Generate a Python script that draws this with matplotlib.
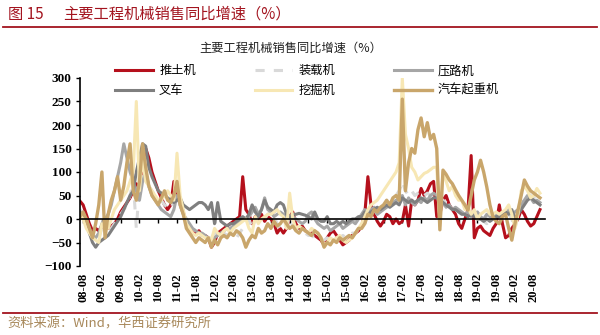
import matplotlib
matplotlib.use("Agg")
import matplotlib.pyplot as plt
from matplotlib.lines import Line2D

plt.rcParams['font.family'] = ['Noto Sans CJK SC', 'DejaVu Sans']

# monthly YoY growth (%), 2008-07 .. 2020-10
dozer = [38, 30, 10, -10, -25, -20,
         -25, -15, -20, -20, -15, -10, 0, 15, 25, 35, 45, 60,
         75, 70, 110, 150, 130, 100, 80, 60, 45, 30, 20, 30,
         80, 45, 40, 15, -10, -20, -30, -30, -25, -35, -35, -40,
         -60, -50, -30, -25, -20, -15, -10, -5, 0, 5, 90, 20,
         10, -10, 5, 0, 10, -5, 5, 0, -10, -30, -20, -30,
         -20, 5, 15, -10, -20, -15, -25, -30, -30, -35, -40, -45,
         -55, -40, -30, -25, -35, -45, -55, -50, -45, -35, -30, -25,
         -15, 10, 90, 30, 10, -5, -15, -5, 10, 5, -10, 0,
         -10, -5, 30, -15, 40, 30, 40, 65, 50, 60, 75, 80,
         5, 10, 40, 50, 30, 20, 10, -10, -20, 0, 20, 135,
         -40, -20, -15, -25, -30, -35, -20, -10, 30, -10, -40, -35,
         -20, -10, 0, 20, 10, -5, -15, -10, 5, 20]

loader = [20, 10, -10, -25, -35, -40,
          -40, -20, -20, -25, -20, -10, 0, 10, 20, 30, 50, 80,
          -20, 70, 90, 80, 70, 60, 50, 45, 40, 30, 25, 20,
          40, 70, 30, 10, -10, -20, -25, -30, -30, -35, -35, -30,
          -40, -30, -40, -35, -30, -35, -30, -35, -40, -30, -20, -10,
          0, -20, 0, 5, -5, 0, 10, 15, 5, -10, -20, -10,
          -15, 5, -15, -20, -25, -30, -30, -35, -35, -40, -40, -45,
          -45, -40, -45, -40, -45, -40, -35, -40, -35, -30, -30, -20,
          -20, 0, 10, 15, 20, 10, 15, 20, 30, 25, 40, 50,
          60, 80, 60, 50, 60, 50, 55, 60, 50, 55, 50, 45,
          50, 45, 40, 35, 30, 25, 20, 15, 20, 10, 15, 10,
          5, 10, 0, -5, -10, -5, 0, 5, 10, 0, 5, 10,
          0, -20, 10, 30, 50, 55, 50, 45, 40, 50]

roller = [15, 10, 0, -20, -35, -40,
          -30, -10, 0, 10, 30, 60, 90, 120, 160, 130, 100, 80,
          60, 40, 80, 100, 70, 50, 40, 30, 20, 15, 10, 5,
          20, 50, 30, 10, 0, -10, -20, -25, -30, -30, -35, -40,
          -45, -40, -35, -30, -25, -20, -20, -15, -10, -5, 0, 0,
          5, 15, 25, 10, 20, 45, 20, 15, 5, 10, 15, 10,
          5, 0, 5, 0, -5, -10, -5, 10, 15, 0, -10, -15,
          -20, -15, -25, -20, -15, -10, -20, -15, -10, -5, -10, 0,
          10, 20, 15, 20, 25, 10, 15, 20, 25, 30, 35, 40,
          40, 50, 30, 45, 35, 30, 40, 35, 45, 40, 50, 55,
          50, 40, 35, 25, 30, 20, 25, 20, 15, 10, 15, 5,
          10, 15, 5, 0, 10, 5, 0, 10, 5, 15, 10, 20,
          10, 15, 20, 30, 40, 50, 45, 35, 40, 35]

forklift = [10, 5, -10, -30, -50, -60,
            -50, -45, -40, -35, -25, -15, -5, 5, 20, 35, 50, 60,
            100, 130, 160, 155, 110, 90, 75, 60, 55, 50, 45, 40,
            35, 40, 45, 30, 25, 20, 25, 30, 35, 35, 30, 20,
            35, -10, 35, -5, -10, -15, -10, -10, -5, 0, 5, 0,
            10, 30, 15, 5, 20, 40, 25, 20, 15, 30, 35, 30,
            10, 5, 10, 10, 12, 10, 8, 5, 0, 15, 0, -5,
            -5, 5, -10, -10, -5, -10, -5, -10, -5, 0, 0, 5,
            5, 15, 10, 15, 20, 25, 20, 25, 30, 25, 30, 35,
            30, 45, 40, 35, 40, 35, 40, 45, 40, 35, 40, 45,
            45, 40, 35, 30, 25, 20, 20, 15, 10, 10, 5, 10,
            5, 0, 0, -5, 0, -5, 0, 5, 5, 10, 15, 10,
            20, 0, 10, 20, 30, 40, 45, 40, 35, 30]

excavator = [10, 0, -20, -30, -40, -45,
             -50, -10, -20, -20, 0, 20, 30, 40, 50, 60, 80, 100,
             250, 60, 130, 80, 70, 60, 50, 40, 40, 50, 60, 50,
             40, 140, 50, 20, -10, -20, -30, -35, -30, -35, -40, -40,
             -45, -20, -30, -35, -25, -20, -30, -20, -15, -10, -5, 0,
             -20, -30, 5, -10, 0, 5, 10, 10, 15, 20, 10, 5,
             -20, 55, 0, -20, -15, -20, -25, -30, -20, -25, -30, -40,
             -55, -50, -40, -45, -40, -35, -45, -50, -45, -40, -30, -20,
             -10, 5, 20, 30, 35, 40, 50, 60, 70, 80, 90, 100,
             120, 300, 180, 150, 110, 100, 83, 90, 97, 100, 105, 110,
             110, -15, 100, 80, 60, 70, 50, 40, 40, 20, 25, 10,
             20, 0, 10, 15, 20, 10, 10, 15, 10, 15, 20, 30,
             10, -20, 10, 60, 70, 60, 45, 50, 65, 55]

crane = [5, 15, 0, -20, -40, -10,
         30, 100, -40, 10, 40, 60, 90, 40, 70, 120, 160, 60,
         40, 80, 160, 110, 70, 50, 40, 30, 45, 60, 40, 35,
         50, 80, 30, 10, -20, -30, -40, -50, -40, -45, -50, -40,
         -60, -45, -55, -40, -35, -40, -30, -35, -25, -30, -40, -60,
         -45, -35, -40, -20, -30, -25, -10, -20, -5, -15, -10, 0,
         -10, -20, -15, -25, -30, -20, -25, -30, -35, -25, -30, -40,
         -60, -50, -55, -45, -50, -40, -45, -40, -35, -40, -30, -20,
         -20, -10, 10, 5, 20, 15, 25, 30, 40, 30, 45, 50,
         40, 255, 60, 120, 150, 140, 190, 215, 175, 205, 170, 180,
         150, -23, 104, 95, 83, 75, 62, 50, 40, 30, 19, 50,
         83, 100, 125, 100, 68, 30, 4, -5, -10, 5, 10, -20,
         -45, -10, 20, 50, 83, 70, 60, 55, 50, 45]

names = ['推土机', '装载机', '压路机', '叉车', '挖掘机', '汽车起重机']
colors = ['#B5101C', '#D9D9D9', '#A6A6A6', '#7F7F7F', '#F7E7B4', '#C9A66B']
styles = ['-', (0, (3, 3)), '-', '-', '-', '-']
widths = [2.2, 2.2, 2.2, 2.2, 2.2, 2.4]

tick_pos = list(range(1, 148, 6))
tick_labels = ['%02d-%02d' % (8 + (p + 6) // 12, (p + 6) % 12 + 1) for p in tick_pos]

fig = plt.figure(figsize=(6.0, 3.35), dpi=100)
ax = fig.add_axes([80 / 600, 1 - 266 / 335, 465 / 600, 188 / 335])

months = list(range(len(dozer)))
handles = []
for series, name, c, ls, lw in zip([dozer, loader, roller, forklift, excavator, crane],
                                   names, colors, styles, widths):
    h, = ax.plot(months, series, color=c, linestyle=ls, linewidth=lw, label=name,
                 solid_joinstyle='round')
    handles.append(h)

ax.set_xlim(0, 148.6)
ax.set_ylim(-100, 300)
ax.set_yticks(range(-100, 301, 50))
ax.spines['top'].set_visible(False)
ax.spines['right'].set_visible(False)
ax.spines['bottom'].set_position(('data', 0))
ax.spines['bottom'].set_linewidth(1.2)
ax.spines['left'].set_linewidth(1.2)

ax.set_xticks(tick_pos)
ax.set_xticklabels(tick_labels, rotation=90, va='top')
ax.tick_params(axis='x', direction='out', length=3, width=1, pad=36)
ax.tick_params(axis='y', direction='out', length=3, width=1, pad=3)
for lab in ax.get_xticklabels():
    lab.set_fontfamily('Liberation Serif')
    lab.set_fontweight('bold')
    lab.set_fontsize(9)
for lab in ax.get_yticklabels():
    lab.set_fontfamily('Liberation Serif')
    lab.set_fontweight('bold')
    lab.set_fontsize(9.5)

# legend filled row by row
order = [0, 3, 1, 4, 2, 5]
fig.legend([handles[i] for i in order], [names[i] for i in order],
           loc='upper left', bbox_to_anchor=(109 / 600, 1 - 58 / 335), ncol=3,
           frameon=False, fontsize=8.8, handlelength=3.1, handletextpad=0.5,
           columnspacing=4.8, labelspacing=0.55, borderpad=0)

fig.text(291 / 600, 1 - 48 / 335, '主要工程机械销售同比增速（%）',
         ha='center', va='center', fontsize=8.8, color='#222222')

# header and source lines
red = '#A3141F'
fig.text(8 / 600, 1 - 14 / 335, '图 15', ha='left', va='center', fontsize=11,
         color=red)
fig.text(63 / 600, 1 - 14 / 335, '主要工程机械销售同比增速（%）', ha='left', va='center',
         fontsize=11, color=red)
fig.add_artist(Line2D([0.005, 0.995], [1 - 27 / 335] * 2, color=red, linewidth=1.3))
fig.add_artist(Line2D([0.005, 0.995], [1 - 313 / 335] * 2, color=red, linewidth=1.3))
fig.text(7 / 600, 1 - 324 / 335, '资料来源：Wind，华西证券研究所', ha='left', va='center',
         fontsize=9.5, color='#A8885A')

fig.savefig('out.png', dpi=100)
